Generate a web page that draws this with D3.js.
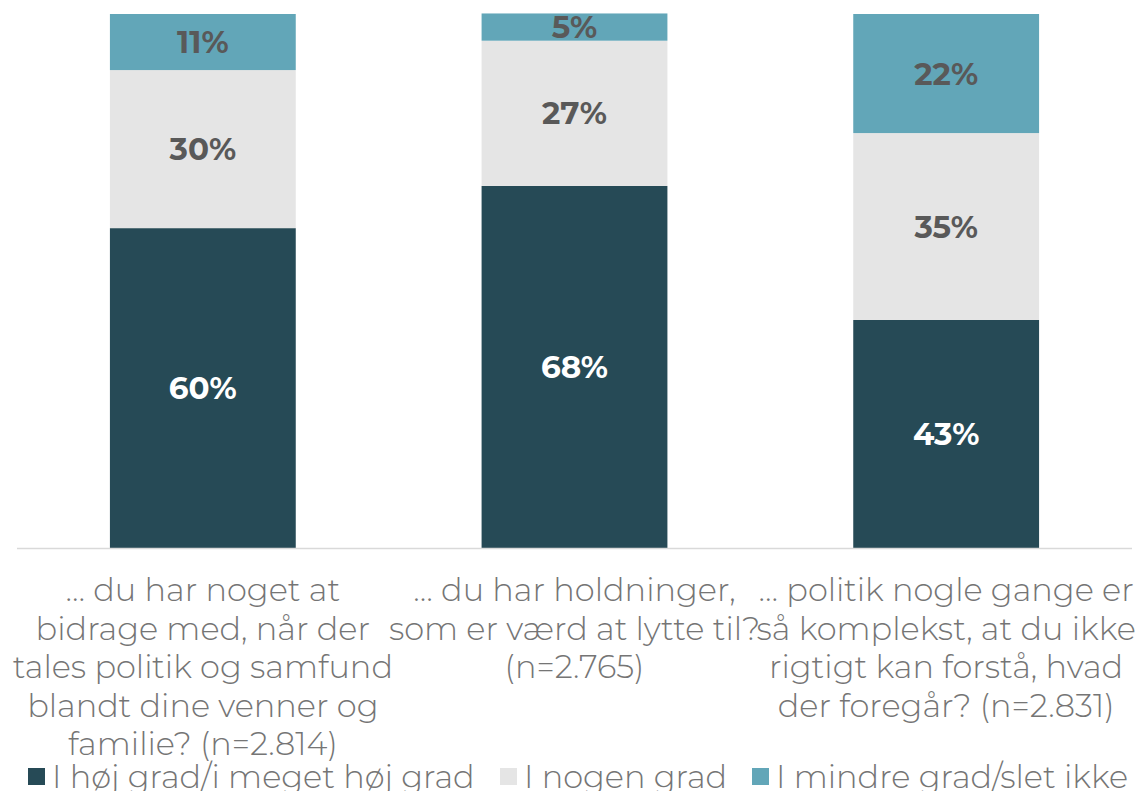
<!DOCTYPE html>
<html>
<head>
<meta charset="utf-8">
<script src="https://cdn.jsdelivr.net/npm/d3@7"></script>
<style>
  body { margin: 0; background: #fff; }
  svg { display: block; }
</style>
</head>
<body>
<div class="chart"></div>
<script>
// data
const categories = ["q1", "q2", "q3"];
const catLabels = [
  ["… du har noget at", "bidrage med, når der", "tales politik og samfund", "blandt dine venner og", "familie? (n=2.814)"],
  ["… du har holdninger,", "som er værd at lytte til?", "(n=2.765)"],
  ["… politik nogle gange er", "så komplekst, at du ikke", "rigtigt kan forstå, hvad", "der foregår? (n=2.831)"]
];
const seriesNames = ["I høj grad/i meget høj grad", "I nogen grad", "I mindre grad/slet ikke"];
const hoj = [59.9, 67.8, 42.7];
const nogen = [29.6, 27.2, 35.0];
const mindre = [10.5, 5.1, 22.3];

const W = 1137, H = 791;
const colors = ["#264a56", "#e5e5e5", "#62a6b8"];
const labelColors = ["#ffffff", "#595959", "#595959"];
const font = "Montserrat, 'Noto Sans', 'DejaVu Sans', sans-serif";

const rows = categories.map((c, i) => ({ cat: c, s0: hoj[i], s1: nogen[i], s2: mindre[i] }));
const stack = d3.stack().keys(["s0", "s1", "s2"])(rows);

const x = d3.scaleBand().domain(categories).range([17, 1132]).paddingInner(0.5).paddingOuter(0.25);
const y = d3.scaleLinear().domain([0, 100]).range([548, 14]);

const svg = d3.select(".chart").append("svg").attr("width", W).attr("height", H);

const layers = svg.selectAll("g.layer").data(stack).join("g")
  .attr("class", "layer")
  .attr("fill", (d, i) => colors[i]);

layers.selectAll("rect").data(d => d).join("rect")
  .attr("x", d => x(d.data.cat))
  .attr("width", x.bandwidth())
  .attr("y", d => y(d[1]))
  .attr("height", d => y(d[0]) - y(d[1]));

// value labels
stack.forEach((layer, i) => {
  svg.append("g").selectAll("text").data(layer).join("text")
    .attr("x", d => x(d.data.cat) + x.bandwidth() / 2)
    .attr("y", d => (y(d[0]) + y(d[1])) / 2)
    .attr("dy", "0.36em")
    .attr("text-anchor", "middle")
    .attr("fill", labelColors[i])
    .style("font-family", font)
    .style("font-weight", 700)
    .style("font-size", "31px")
    .text(d => Math.round(d[1] - d[0]) + "%");
});

// baseline
svg.append("line")
  .attr("x1", 17).attr("x2", 1132)
  .attr("y1", y(0) + 0.5).attr("y2", y(0) + 0.5)
  .attr("stroke", "#d9d9d9").attr("stroke-width", 1.5);

// category labels
const xAxis = svg.append("g");
categories.forEach((c, i) => {
  const t = xAxis.append("text")
    .attr("x", x(c) + x.bandwidth() / 2)
    .attr("y", 601)
    .attr("text-anchor", "middle")
    .attr("fill", "#757575")
    .style("font-family", font)
    .style("font-weight", 300)
    .style("font-size", "32px");
  catLabels[i].forEach((line, j) => {
    t.append("tspan").attr("x", x(c) + x.bandwidth() / 2).attr("y", 601 + j * 38.5).text(line);
  });
});

// legend
const legendX = [28, 500, 752];
const legend = svg.append("g");
seriesNames.forEach((name, i) => {
  legend.append("rect")
    .attr("x", legendX[i]).attr("y", 768)
    .attr("width", 17).attr("height", 17)
    .attr("fill", colors[i]);
  legend.append("text")
    .attr("x", legendX[i] + 24).attr("y", 788)
    .attr("fill", "#757575")
    .style("font-family", font)
    .style("font-weight", 300)
    .style("font-size", "32px")
    .text(name);
});
</script>
</body>
</html>
